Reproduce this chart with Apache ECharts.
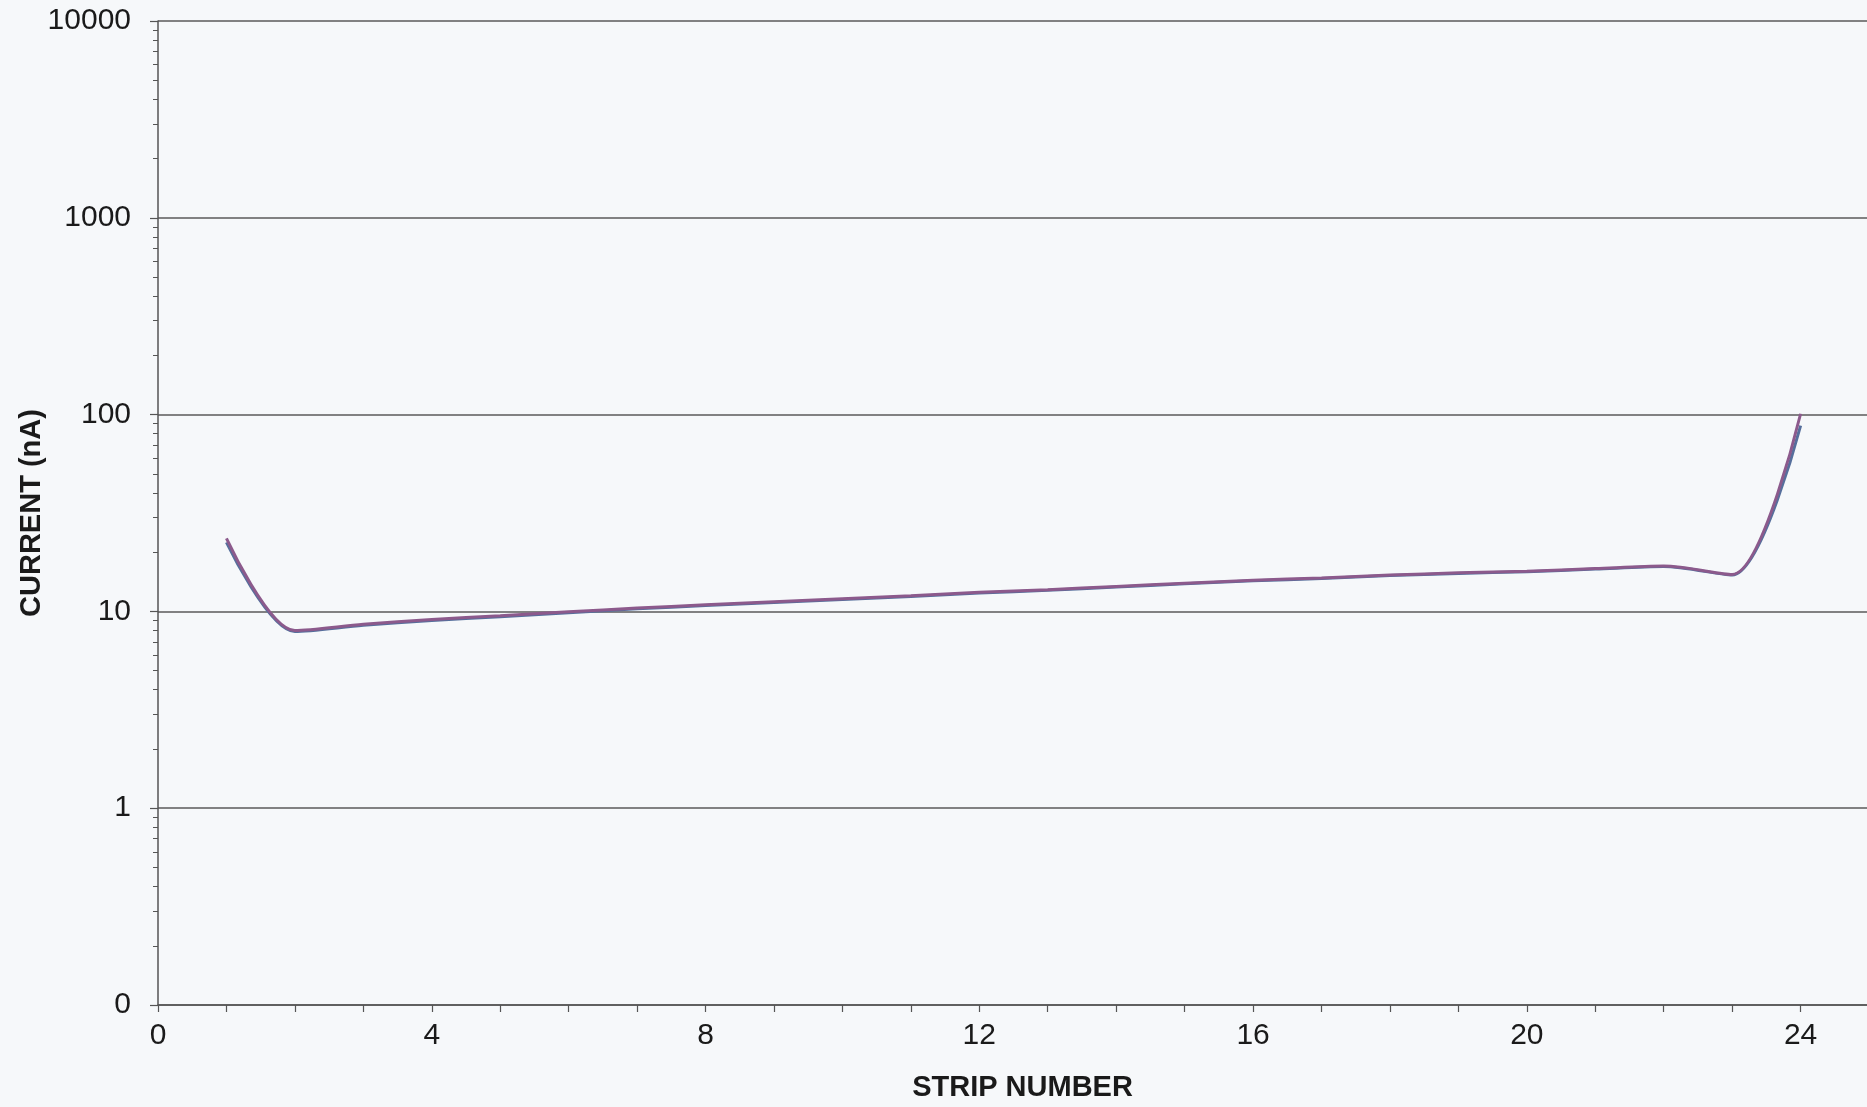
<!DOCTYPE html>
<html>
<head>
<meta charset="utf-8">
<script src="https://cdn.jsdelivr.net/npm/echarts@6/dist/echarts.min.js"></script>
<style>
html,body{margin:0;padding:0;background:#f6f8fa;}
#chart{width:1867px;height:1107px;}
</style>
</head>
<body>
<div id="chart"></div>
<script>
// Data
var stripNumbers = [1,2,3,4,5,6,7,8,9,10,11,12,13,14,15,16,17,18,19,20,21,22,23,24];
var currentA = [23.5, 8.0, 8.6, 9.1, 9.5, 9.95, 10.4, 10.8, 11.2, 11.6, 12.0, 12.5, 12.9, 13.4, 13.9, 14.4, 14.8, 15.3, 15.7, 16.0, 16.5, 17.0, 15.4, 101];
var currentB = [22.4, 7.9, 8.5, 9.0, 9.4, 9.85, 10.3, 10.7, 11.1, 11.5, 11.9, 12.4, 12.8, 13.3, 13.8, 14.3, 14.7, 15.2, 15.6, 15.9, 16.4, 16.9, 15.3, 88];
var xTickLabels = [0, 4, 8, 12, 16, 20, 24];
var yMinorTicks = [];
[0.1, 1, 10, 100, 1000].forEach(function (d) {
  for (var k = 2; k <= 9; k++) yMinorTicks.push(+(d * k).toPrecision(3));
});

function pairs(xs, ys) { return xs.map(function (x, i) { return [x, ys[i]]; }); }

var axisColor = '#555';
var textColor = '#1a1a1a';
var fontFam = '"Liberation Sans", Arial, sans-serif';

var chart = echarts.init(document.getElementById('chart'), null, {renderer: 'canvas'});
chart.setOption({
  backgroundColor: '#f6f8fa',
  animation: false,
  grid: {left: 158, right: 0, top: 21, bottom: 85, containLabel: false},
  xAxis: {
    type: 'value', min: 0, max: 24.97, interval: 1,
    name: 'STRIP NUMBER', nameLocation: 'middle', nameGap: 68,
    nameTextStyle: {fontFamily: fontFam, fontWeight: 'bold', fontSize: 29, color: textColor, padding: [0, 0, 0, 20]},
    axisLine: {lineStyle: {color: axisColor, width: 1.5}},
    axisTick: {show: true, length: 7, inside: false, lineStyle: {color: axisColor, width: 1.2}},
    axisLabel: {
      fontFamily: fontFam, fontSize: 30, color: textColor, margin: 16,
      showMaxLabel: false,
      formatter: function (v) { return xTickLabels.indexOf(v) >= 0 ? String(v) : ''; }
    },
    splitLine: {show: false}
  },
  yAxis: [{
    type: 'log', logBase: 10, min: 0.1, max: 10000,
    name: 'CURRENT (nA)', nameLocation: 'middle', nameGap: 112, nameRotate: 90,
    nameMoveOverlap: false,
    nameTextStyle: {fontFamily: fontFam, fontWeight: 'bold', fontSize: 29, color: textColor},
    axisLine: {show: true, lineStyle: {color: axisColor, width: 1.5}},
    axisTick: {show: true, length: 8, lineStyle: {color: axisColor, width: 1.2}},
    axisLabel: {
      fontFamily: fontFam, fontSize: 30, color: textColor, margin: 27,
      formatter: function (v) { return v < 1 ? '0' : String(Math.round(v)); }
    },
    splitLine: {show: true, lineStyle: {color: '#5a5a5a', width: 1.5}}
  }, {
    type: 'log', logBase: 10, min: 0.1, max: 10000, position: 'left',
    axisLine: {show: false},
    axisTick: {show: true, length: 5, customValues: yMinorTicks, lineStyle: {color: axisColor, width: 1}},
    axisLabel: {show: false},
    splitLine: {show: false}
  }],
  series: [{
    type: 'line', name: 'B', data: pairs(stripNumbers, currentB),
    smooth: 0.3, showSymbol: false, yAxisIndex: 0,
    lineStyle: {color: '#566f9c', width: 3}
  }, {
    type: 'line', name: 'A', data: pairs(stripNumbers, currentA),
    smooth: 0.3, showSymbol: false, yAxisIndex: 0,
    lineStyle: {color: '#8c5a8c', width: 3}
  }]
});
</script>
</body>
</html>
